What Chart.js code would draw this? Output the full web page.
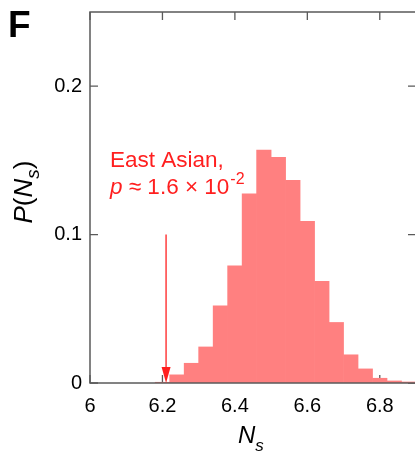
<!DOCTYPE html>
<html lang="en">
<head>
<meta charset="UTF-8">
<title>P(Ns) histogram</title>
<script src="https://cdn.jsdelivr.net/npm/chart.js"></script>
<style>
  body {
    margin: 0;
    padding: 0;
    background: #ffffff;
    overflow: hidden;
  }
  #wrap {
    position: relative;
    width: 420px;
    height: 455px;
  }
</style>
</head>
<body>
<div id="wrap">
  <canvas id="hist" width="420" height="455"></canvas>
</div>
<script>
// bin centres (bin width 0.04) and probabilities
const binCenters = [6.20, 6.24, 6.28, 6.32, 6.36, 6.40, 6.44, 6.48, 6.52,
                    6.56, 6.60, 6.64, 6.68, 6.72, 6.76, 6.80, 6.84, 6.88];
const probValues = [0.0005, 0.0055, 0.0133, 0.0243, 0.052, 0.079, 0.1275, 0.157, 0.152,
                    0.1365, 0.109, 0.0685, 0.0408, 0.019, 0.0095, 0.0032, 0.0014, 0.0007];

const xTicks = [6, 6.2, 6.4, 6.6, 6.8];
const yTicks = [0, 0.1, 0.2];
const xRange = [6, 6.9];
const yRange = [0, 0.25];

// observed value for the East Asian group (arrow)
const observedNs = 6.21;
const arrowTop = 0.1;

const FONT = '"Liberation Sans", Arial, Helvetica, sans-serif';
const AXIS_COLOR = '#5a5a5a';
const RED = '#ff1f1f';

// ticks pointing into the plot, drawn under the bars
const tickPlugin = {
  id: 'innerTicks',
  beforeDatasetsDraw(chart) {
    const { ctx, chartArea: a, scales } = chart;
    ctx.save();
    ctx.strokeStyle = AXIS_COLOR;
    ctx.lineWidth = 1.3;
    ctx.beginPath();
    xTicks.forEach(v => {
      const px = scales.x.getPixelForValue(v);
      ctx.moveTo(px, a.bottom); ctx.lineTo(px, a.bottom - 8);
      ctx.moveTo(px, a.top); ctx.lineTo(px, a.top + 8);
    });
    yTicks.forEach(v => {
      const py = scales.y.getPixelForValue(v);
      ctx.moveTo(a.left, py); ctx.lineTo(a.left + 8, py);
      ctx.moveTo(a.right, py); ctx.lineTo(a.right - 8, py);
    });
    ctx.stroke();
    ctx.restore();
  }
};

// box, annotation, titles
const decoPlugin = {
  id: 'deco',
  afterDatasetsDraw(chart) {
    const { ctx, chartArea: a, scales } = chart;
    ctx.save();

    // frame
    ctx.strokeStyle = AXIS_COLOR;
    ctx.lineWidth = 1.5;
    ctx.strokeRect(a.left, a.top, a.right - a.left, a.bottom - a.top);

    // arrow at the observed value
    const ax = scales.x.getPixelForValue(observedNs);
    const ay0 = scales.y.getPixelForValue(arrowTop);
    const ay1 = scales.y.getPixelForValue(0);
    ctx.strokeStyle = RED;
    ctx.fillStyle = RED;
    ctx.lineWidth = 1.3;
    ctx.beginPath();
    ctx.moveTo(ax, ay0);
    ctx.lineTo(ax, ay1 - 12);
    ctx.stroke();
    ctx.beginPath();
    ctx.moveTo(ax - 4.5, ay1 - 16);
    ctx.lineTo(ax + 4.5, ay1 - 16);
    ctx.lineTo(ax, ay1);
    ctx.closePath();
    ctx.fill();

    // annotation text
    ctx.textBaseline = 'alphabetic';
    ctx.textAlign = 'left';
    ctx.font = '22.5px ' + FONT;
    ctx.fillText('East Asian,', 110, 167);
    let x = 110;
    ctx.font = 'italic 22.5px ' + FONT;
    ctx.fillText('p', x, 194);
    x += ctx.measureText('p').width;
    ctx.font = '22.5px ' + FONT;
    const mid = ' \u2248 1.6 \u00d7 10';
    ctx.fillText(mid, x, 194);
    x += ctx.measureText(mid).width;
    ctx.font = '16px ' + FONT;
    ctx.fillText('-2', x + 1, 184);

    // panel letter
    ctx.fillStyle = '#000';
    ctx.font = 'bold 37px ' + FONT;
    ctx.fillText('F', 8, 37);

    // x title  N_s
    ctx.font = 'italic 24px ' + FONT;
    ctx.fillText('N', 238, 443);
    const nW = ctx.measureText('N').width;
    ctx.font = 'italic 17px ' + FONT;
    ctx.fillText('s', 238 + nW, 451);

    // y title  P(N_s)
    ctx.translate(32, 192);
    ctx.rotate(-Math.PI / 2);
    const parts = [
      ['italic 26px ', 'P', 0], ['26px ', '(', 0], ['italic 26px ', 'N', 0],
      ['italic 19px ', 's', 7], ['26px ', ')', 0]
    ];
    let w = 0;
    parts.forEach(p => { ctx.font = p[0] + FONT; w += ctx.measureText(p[1]).width; });
    let tx = -w / 2;
    parts.forEach(p => {
      ctx.font = p[0] + FONT;
      ctx.fillText(p[1], tx, p[2]);
      tx += ctx.measureText(p[1]).width;
    });

    ctx.restore();
  }
};

const ctx = document.getElementById('hist').getContext('2d');

const hist = new Chart(ctx, {
  type: 'bar',
  data: {
    datasets: [{
      data: binCenters.map((c, i) => ({ x: c, y: probValues[i] })),
      backgroundColor: 'rgb(255, 128, 128)',
      borderWidth: 0,
      barPercentage: 1.0,
      categoryPercentage: 1.0,
      grouped: false
    }]
  },
  options: {
    responsive: false,
    animation: false,
    layout: { padding: { top: 12, right: 4, left: 0, bottom: 0 } },
    plugins: {
      legend: { display: false },
      tooltip: { enabled: false }
    },
    scales: {
      x: {
        type: 'linear',
        min: xRange[0],
        max: xRange[1],
        offset: false,
        grid: { display: false, drawTicks: true, tickLength: 8 },
        border: { display: false },
        afterBuildTicks: s => { s.ticks = xTicks.map(v => ({ value: v })); },
        afterFit: s => { s.height = 72; s.paddingLeft = 0; s.paddingRight = 0; },
        ticks: {
          color: '#000',
          padding: 3,
          maxRotation: 0,
          font: { family: FONT, size: 20 },
          callback: v => String(+v.toFixed(1))
        }
      },
      y: {
        min: yRange[0],
        max: yRange[1],
        grid: { display: false },
        border: { display: false },
        afterBuildTicks: s => { s.ticks = yTicks.map(v => ({ value: v })); },
        afterFit: s => { s.width = 90; s.paddingTop = 0; s.paddingBottom = 0; },
        ticks: {
          color: '#000',
          padding: 0,
          font: { family: FONT, size: 20 },
          callback: v => String(+v.toFixed(1))
        }
      }
    }
  },
  plugins: [tickPlugin, decoPlugin]
});
</script>
</body>
</html>
